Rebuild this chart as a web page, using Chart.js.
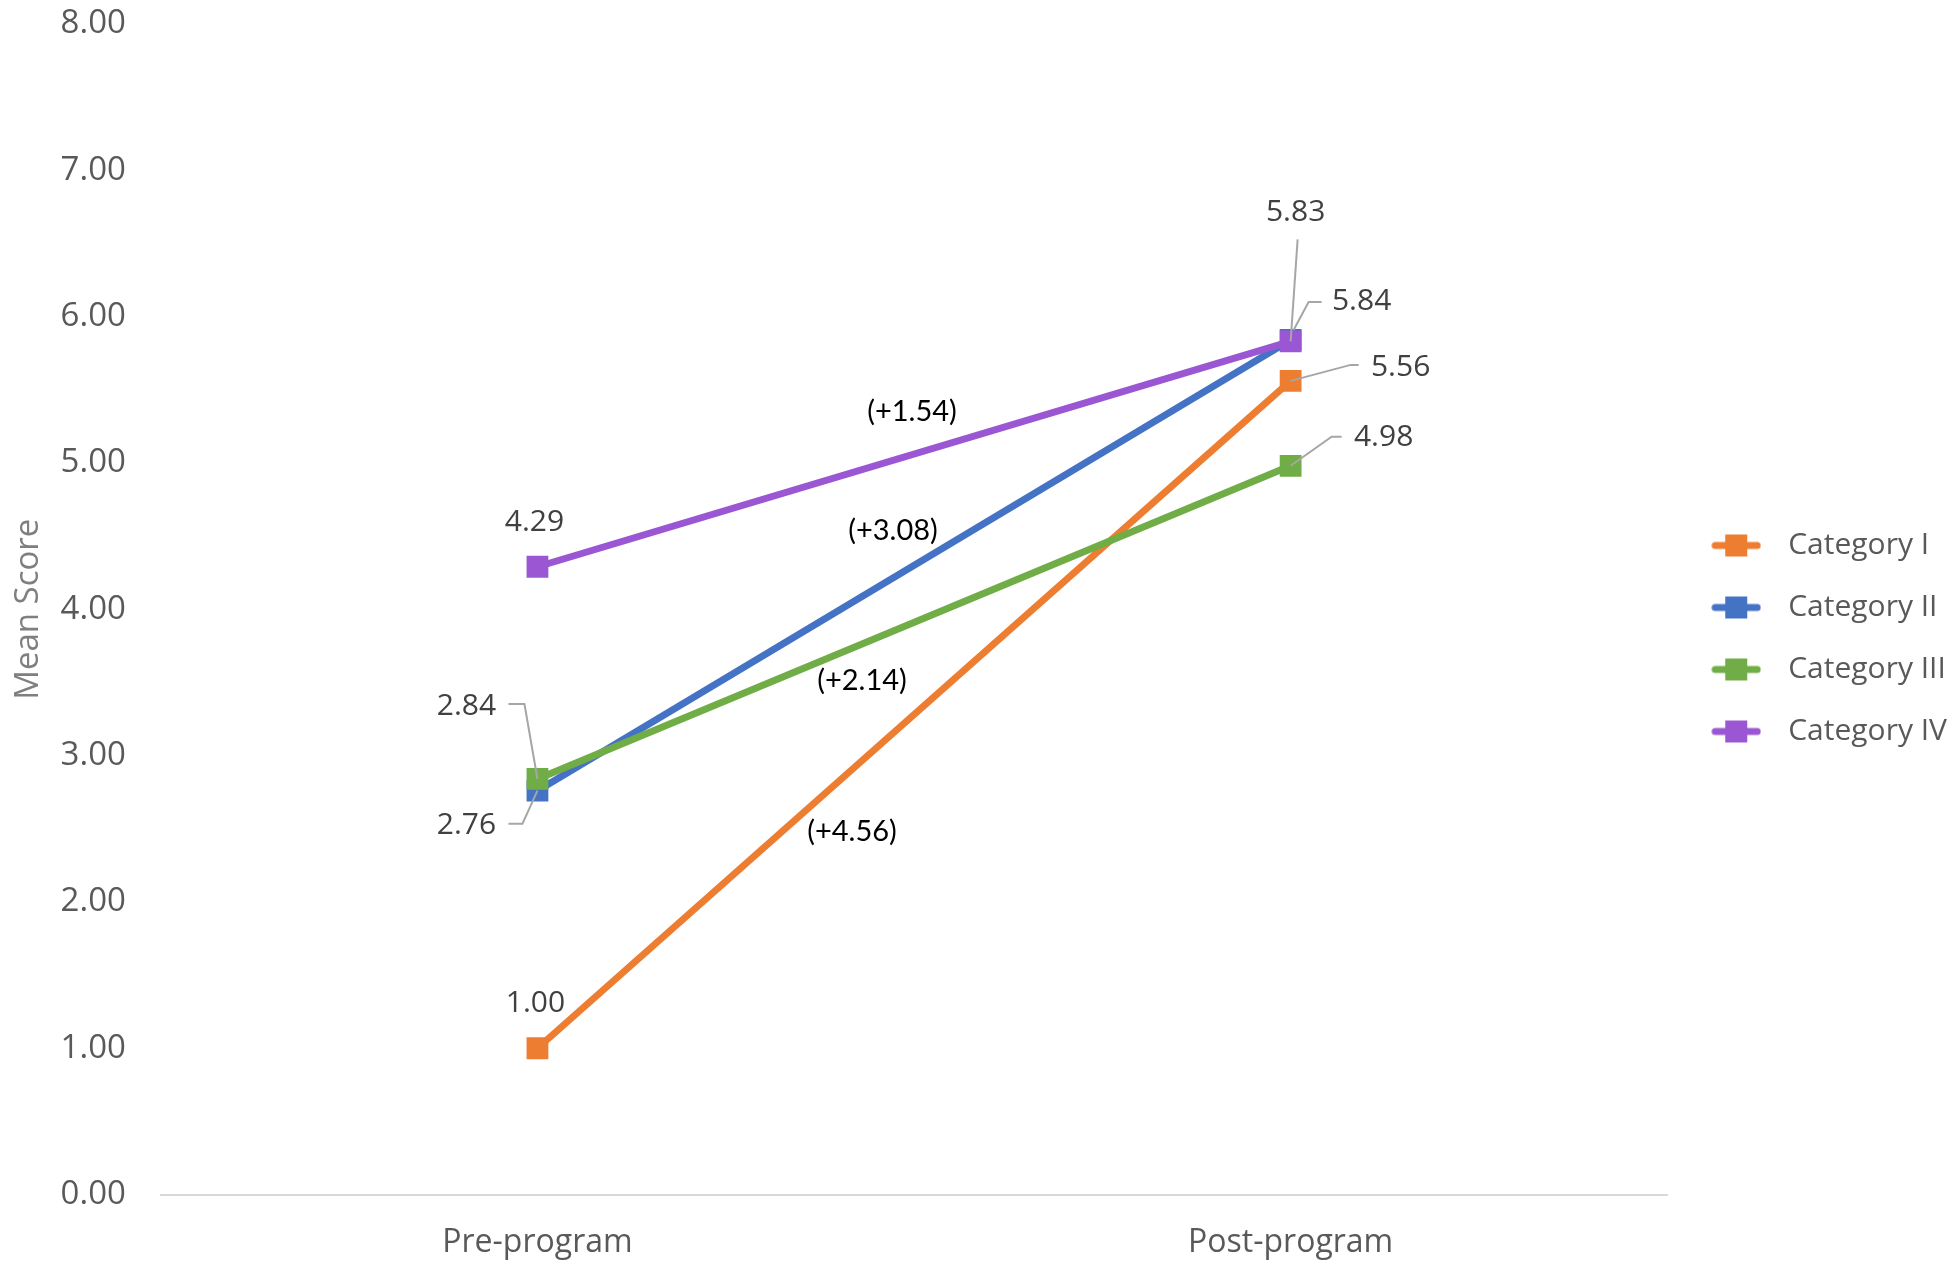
<!DOCTYPE html>
<html>
<head>
<meta charset="utf-8">
<script src="https://cdn.jsdelivr.net/npm/chart.js@4"></script>
<style>
    html, body { margin: 0; padding: 0; background: #ffffff; }
    #wrap { width: 1957px; height: 1261px; }
</style>
</head>
<body>
<div id="wrap"><canvas id="scoreChart"></canvas></div>
<script>
// Mean scores before and after the program
const phases = ['Pre-program', 'Post-program'];
const seriesNames = ['Category I', 'Category II', 'Category III', 'Category IV'];
const categoryI = [1.00, 5.56];
const categoryII = [2.76, 5.84];
const categoryIII = [2.84, 4.98];
const categoryIV = [4.29, 5.83];
const yTicks = [0, 1, 2, 3, 4, 5, 6, 7, 8];

const seriesValues = [categoryI, categoryII, categoryIII, categoryIV];
const seriesColors = ['#ED7D31', '#4472C4', '#70AD47', '#9B57D3'];

// where each value label sits relative to its point, plus optional leader line
const valueLabelLayout = [
    [{ dx: -2, dy: -45 }, { dx: 110, dy: -13, leader: [[68, -16], [60, -16], [0, 0]] }],
    [{ dx: -71, dy: 35, leader: [[-29, 33], [-15, 33], [0, 0]] }, { dx: 71, dy: -38, leader: [[31, -38], [18, -38], [3, -10]] }],
    [{ dx: -71, dy: -73, leader: [[-29, -75], [-13, -75], [0, 0]] }, { dx: 93, dy: -28, leader: [[51, -29], [41, -29], [0, 0]] }],
    [{ dx: -3, dy: -44 }, { dx: 5, dy: -129, leader: [[7, -102], [0, 0]] }]
];
// change labels, offset from the middle of each line
const changeLabelLayout = [
    { dx: -62, dy: 117 },
    { dx: -21, dy: -35 },
    { dx: -52, dy: 58 },
    { dx: -2, dy: -42 }
];

function legendMarker(color) {
    const c = document.createElement('canvas');
    c.width = 50;
    c.height = 24;
    const g = c.getContext('2d');
    g.strokeStyle = color;
    g.lineWidth = 7;
    g.lineCap = 'round';
    g.beginPath();
    g.moveTo(4, 12);
    g.lineTo(46, 12);
    g.stroke();
    g.fillStyle = color;
    g.fillRect(14, 1, 22, 22);
    return c;
}
const legendMarkers = seriesColors.map(legendMarker);

const annotationPlugin = {
    id: 'scoreLabels',
    afterDatasetsDraw(chart) {
        const ctx = chart.ctx;
        ctx.save();
        chart.data.datasets.forEach((ds, i) => {
            const meta = chart.getDatasetMeta(i);
            const pts = meta.data;

            // value labels with leader lines
            pts.forEach((pt, j) => {
                const lay = valueLabelLayout[i][j];
                if (lay.leader) {
                    ctx.strokeStyle = '#a6a6a6';
                    ctx.lineWidth = 2;
                    ctx.beginPath();
                    lay.leader.forEach((p, k) => {
                        if (k === 0) ctx.moveTo(pt.x + p[0], pt.y + p[1]);
                        else ctx.lineTo(pt.x + p[0], pt.y + p[1]);
                    });
                    ctx.stroke();
                }
                ctx.fillStyle = '#404040';
                ctx.font = '30px "Open Sans"';
                ctx.textAlign = 'center';
                ctx.textBaseline = 'middle';
                ctx.fillText(ds.data[j].toFixed(2), pt.x + lay.dx, pt.y + lay.dy);
            });

            // change from pre to post
            const diff = ds.data[1] - ds.data[0];
            const mx = (pts[0].x + pts[1].x) / 2;
            const my = (pts[0].y + pts[1].y) / 2;
            const cl = changeLabelLayout[i];
            ctx.fillStyle = '#000000';
            ctx.font = '29px Lato';
            ctx.textAlign = 'center';
            ctx.textBaseline = 'middle';
            ctx.fillText('(+' + diff.toFixed(2) + ')', mx + cl.dx, my + cl.dy);
        });
        ctx.restore();
    }
};

const datasets = seriesNames.map((name, i) => ({
    label: name,
    data: seriesValues[i],
    borderColor: seriesColors[i],
    backgroundColor: seriesColors[i],
    borderWidth: 7,
    pointStyle: 'rect',
    pointRadius: 14,
    pointHoverRadius: 14,
    pointBorderWidth: 2,
    pointBorderColor: seriesColors[i],
    pointBackgroundColor: seriesColors[i],
    clip: false,
    // later series are painted on top
    order: seriesNames.length - 1 - i
}));

new Chart(document.getElementById('scoreChart'), {
    type: 'line',
    data: {
        labels: phases,
        datasets: datasets
    },
    options: {
        responsive: true,
        maintainAspectRatio: false,
        animation: false,
        layout: {
            autoPadding: false,
            padding: { top: 11, left: 9, right: 0, bottom: -5 }
        },
        scales: {
            x: {
                offset: true,
                grid: { display: false, tickLength: 25 },
                border: { display: true, color: '#d9d9d9', width: 2 },
                ticks: {
                    color: '#595959',
                    font: { family: 'Open Sans', size: 32 },
                    padding: 4
                }
            },
            y: {
                min: 0,
                max: 8,
                afterBuildTicks(scale) {
                    scale.ticks = yTicks.map(v => ({ value: v }));
                },
                grid: { display: false, tickLength: 31 },
                border: { display: false },
                ticks: {
                    color: '#595959',
                    font: { family: 'Open Sans', size: 33 },
                    padding: 4,
                    callback: v => Number(v).toFixed(2)
                },
                title: {
                    display: true,
                    text: 'Mean Score',
                    color: '#7f7f7f',
                    font: { family: 'Open Sans', size: 33 },
                    padding: { top: 0, bottom: 8 }
                }
            }
        },
        plugins: {
            legend: {
                position: 'right',
                labels: {
                    usePointStyle: true,
                    pointStyleWidth: 74,
                    padding: 32,
                    color: '#595959',
                    font: { family: 'Open Sans', size: 30 },
                    sort: (a, b) => a.datasetIndex - b.datasetIndex,
                    generateLabels(chart) {
                        return chart.data.datasets.map((ds, i) => ({
                            text: ds.label,
                            pointStyle: legendMarkers[i],
                            fillStyle: ds.borderColor,
                            strokeStyle: ds.borderColor,
                            lineWidth: 0,
                            fontColor: '#595959',
                            hidden: false,
                            datasetIndex: i
                        }));
                    }
                }
            },
            tooltip: { enabled: false }
        }
    },
    plugins: [annotationPlugin]
});
</script>
</body>
</html>
